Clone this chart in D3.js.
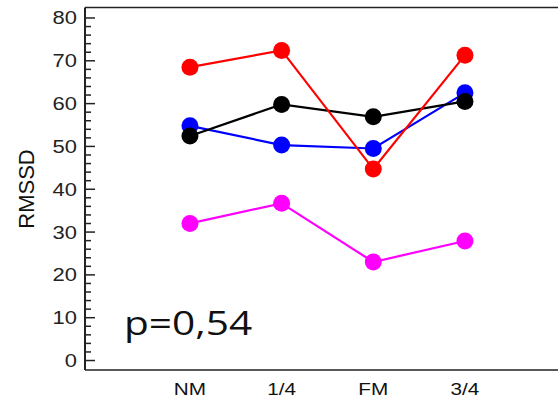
<!DOCTYPE html>
<head>
  <meta charset="utf-8" />
  <script src="https://cdn.jsdelivr.net/npm/d3@7"></script>
  <style>
    body { margin: 0; background: #fff; }
    text { font-family: "Liberation Sans", Arial, sans-serif; }
  </style>
</head>
<body>
  <svg class="chart" width="558" height="398"></svg>
  <script>
    const categories = ["NM", "1/4", "FM", "3/4"];
    const redValues = [68.4, 72.3, 44.6, 71.2];
    const blackValues = [52.3, 59.7, 56.8, 60.4];
    const blueValues = [54.7, 50.2, 49.4, 62.4];
    const magentaValues = [31.9, 36.6, 22.9, 27.8];
    const majorTicks = [0, 10, 20, 30, 40, 50, 60, 70, 80];
    const pLabel = "p=0,54";

    // draw order: bottom first
    const series = [
      { name: "magenta", color: "#ff00ff", values: magentaValues },
      { name: "blue", color: "#0000ff", values: blueValues },
      { name: "black", color: "#000000", values: blackValues },
      { name: "red", color: "#ff0000", values: redValues }
    ];

    // the source image is a bit stretched sideways, so text gets widened too
    const stretch = 1.22;

    const svg = d3.select(".chart");
    const x = d3.scaleLinear().domain([-1.145, 4.015]).range([85, 558]);
    const y = d3.scaleLinear().domain([-2.33, 82.33]).range([370, 7.5]);

    svg.append("line").attr("x1", 85).attr("x2", 558).attr("y1", y(82.33)).attr("y2", y(82.33))
      .attr("stroke", "#222").attr("stroke-width", 1.5);
    svg.append("line").attr("x1", 85).attr("x2", 558).attr("y1", y(-2.33)).attr("y2", y(-2.33))
      .attr("stroke", "#222").attr("stroke-width", 1.5);

    const minor = d3.range(0, 81, 2).filter((v) => v % 10 !== 0);
    const axisG = svg.append("g").attr("transform", "translate(85,0)");
    axisG.call(d3.axisRight(y).tickValues(minor).tickSize(6).tickFormat(""))
      .call((g) => g.select(".domain").remove())
      .selectAll("line").attr("stroke", "#222").attr("stroke-width", 1.5);
    const majorG = svg.append("g").attr("transform", "translate(85,0)");
    majorG.call(d3.axisRight(y).tickValues(majorTicks).tickSize(10).tickFormat(d3.format("d")))
      .call((g) => g.select(".domain").remove());
    majorG.selectAll("line").attr("stroke", "#222").attr("stroke-width", 1.5);
    majorG.selectAll("text")
      .attr("x", -8 / stretch).attr("dy", "0.36em")
      .attr("transform", `scale(${stretch},1)`)
      .attr("text-anchor", "end")
      .attr("font-size", 18).attr("fill", "#222");
    svg.append("line").attr("x1", 85).attr("x2", 85).attr("y1", y(82.33)).attr("y2", y(-2.33))
      .attr("stroke", "#222").attr("stroke-width", 2);

    svg.append("g").selectAll("text").data(categories).enter().append("text")
      .attr("transform", (d, i) => `translate(${x(i)},395) scale(${stretch},1)`)
      .attr("text-anchor", "middle").attr("font-size", 17).attr("fill", "#111")
      .text((d) => d);

    svg.append("text")
      .attr("transform", "translate(34,189) rotate(-90)")
      .attr("text-anchor", "middle").attr("font-size", 22).attr("fill", "#111")
      .text("RMSSD");

    const line = d3.line().x((d, i) => x(i)).y((d) => y(d));
    series.forEach((s) => {
      const g = svg.append("g");
      g.append("path").datum(s.values).attr("d", line)
        .attr("fill", "none").attr("stroke", s.color).attr("stroke-width", 2.2);
      g.selectAll("circle").data(s.values).enter().append("circle")
        .attr("cx", (d, i) => x(i)).attr("cy", (d) => y(d)).attr("r", 8.5)
        .attr("fill", s.color);
    });

    svg.append("text")
      .attr("transform", "translate(124,335) scale(1.27,1)")
      .attr("font-size", 32).attr("fill", "#111")
      .style("font-family", "'Open Sans', 'Noto Sans', sans-serif")
      .text(pLabel);
  </script>
</body>
